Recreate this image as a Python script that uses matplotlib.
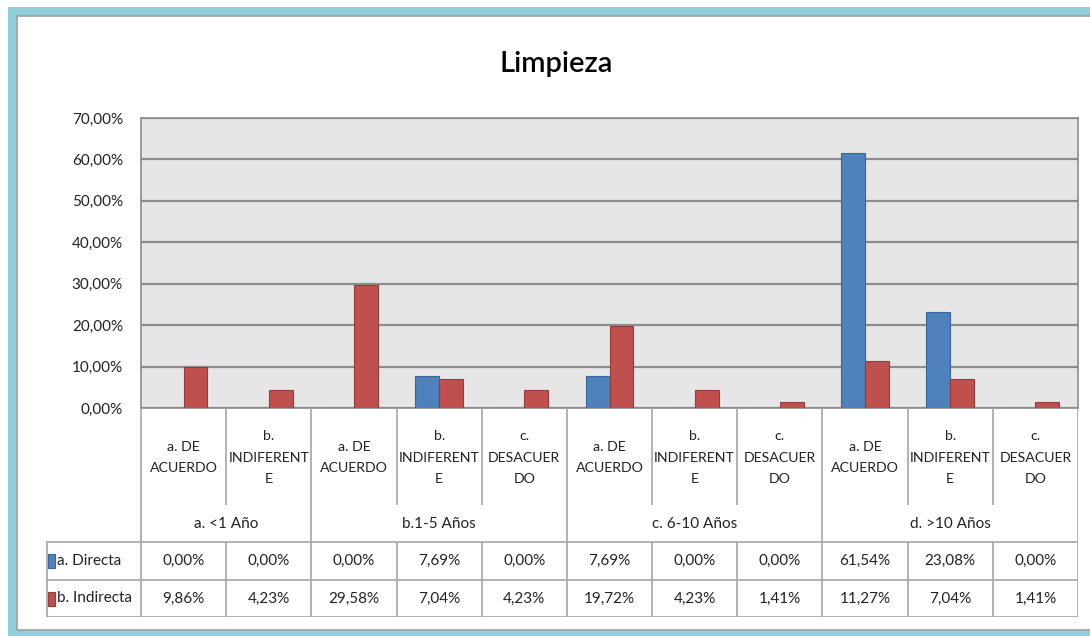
import matplotlib
matplotlib.use("Agg")
import matplotlib.pyplot as plt
from matplotlib import font_manager
from matplotlib.patches import Rectangle
import numpy as np

# ---------------- data ----------------
categories = ["a. DE\nACUERDO", "b.\nINDIFERENT\nE",
              "a. DE\nACUERDO", "b.\nINDIFERENT\nE", "c.\nDESACUER\nDO",
              "a. DE\nACUERDO", "b.\nINDIFERENT\nE", "c.\nDESACUER\nDO",
              "a. DE\nACUERDO", "b.\nINDIFERENT\nE", "c.\nDESACUER\nDO"]
groups = ["a. <1 Año", "b.1-5 Años", "c. 6-10 Años", "d. >10 Años"]
group_sizes = [2, 3, 3, 3]
series_names = ["a. Directa", "b. Indirecta"]
directa = [0.00, 0.00, 0.00, 7.69, 0.00, 7.69, 0.00, 0.00, 61.54, 23.08, 0.00]
indirecta = [9.86, 4.23, 29.58, 7.04, 4.23, 19.72, 4.23, 1.41, 11.27, 7.04, 1.41]
yticks = [0, 10, 20, 30, 40, 50, 60, 70]
title = "Limpieza"

# ---------------- style ----------------
names = {f.name for f in font_manager.fontManager.ttflist}
narrow = "Liberation Sans Narrow" in names
if narrow:
    plt.rcParams["font.family"] = ["Liberation Sans Narrow", "DejaVu Sans"]
    cfs, fs, tfs, yfs = 11.5, 11.5, 23, 12
else:
    plt.rcParams["font.family"] = ["Lato", "DejaVu Sans"]
    cfs, fs, tfs, yfs = 10.2, 11, 21, 11

BLUE, BLUE_E = "#4F81BD", "#3A6596"
RED, RED_E = "#C0504D", "#943C3A"
GRID = "#8C8C8C"
LINE = "#A6A6A6"
TXT = "#222222"

W, H = 1090, 636
fig = plt.figure(figsize=(W / 100, H / 100), dpi=100)
fig.patch.set_facecolor("white")

def fx(x):
    return x / W

def fy(y):
    return 1 - y / H

# frame
fig.patches.append(Rectangle((fx(8), fy(645)), fx(1200), (645 - 7) / H,
                             transform=fig.transFigure, facecolor="#92CDDC",
                             edgecolor="none", zorder=-20))
fig.patches.append(Rectangle((fx(17), fy(630)), fx(1200), (630 - 16) / H,
                             transform=fig.transFigure, facecolor="white",
                             edgecolor="#A0A0A0", lw=1.2, zorder=-10))

fig.text(fx(556), fy(64), title, ha="center", va="center", fontsize=tfs,
         color="black", fontweight="semibold")

# ---------------- bar axes ----------------
L, R, T, B = 141, 1078, 118, 408
ax = fig.add_axes([fx(L), fy(B), fx(R - L), (B - T) / H])
ax.set_facecolor("#E6E6E6")
n = len(categories)
x = np.arange(n)
bw = 0.28
ax.bar(x - bw / 2, directa, bw, color=BLUE, edgecolor=BLUE_E, lw=0.8, zorder=3)
ax.bar(x + bw / 2, indirecta, bw, color=RED, edgecolor=RED_E, lw=0.8, zorder=3)
ax.set_xlim(-0.5, n - 0.5)
ax.set_ylim(0, 70)
ax.set_yticks(yticks)
ax.set_yticklabels([f"{v:.2f}%".replace(".", ",") for v in yticks],
                   fontsize=yfs, color=TXT)
ax.yaxis.grid(True, color=GRID, lw=1.6, zorder=1)
ax.set_axisbelow(True)
ax.set_xticks([])
ax.tick_params(axis="y", length=0, pad=13)
for s in ax.spines.values():
    s.set_color(GRID)
    s.set_linewidth(1.2)

# ---------------- data table ----------------
TL, TB = 46, 617
tax = fig.add_axes([fx(TL), fy(TB), fx(R - TL), (TB - B) / H])
catw = (R - L) / n
x0 = -0.5 - (L - TL) / catw
tax.set_xlim(x0, n - 0.5)
tax.set_ylim(TB - B, 0)
tax.axis("off")

r_cat, r_grp, r_s1, r_s2 = 97, 134, 172, 209

def hline(y, xa, xb):
    tax.plot([xa, xb], [y, y], color=LINE, lw=1.2, solid_capstyle="butt")

def vline(xv, ya, yb):
    tax.plot([xv, xv], [ya, yb], color=LINE, lw=1.2, solid_capstyle="butt")

vline(-0.5, 0, r_s2)
vline(n - 0.5, 0, r_s2)
vline(x0 + 0.01, r_grp, r_s2)
bounds = np.cumsum(group_sizes)[:-1]
for i in range(1, n):
    if i in bounds:
        vline(i - 0.5, 0, r_s2)
    else:
        vline(i - 0.5, 0, r_cat)
        vline(i - 0.5, r_grp, r_s2)
hline(r_grp, x0, n - 0.5)
hline(r_s1, x0, n - 0.5)
hline(r_s2, x0, n - 0.5)

for i, c in enumerate(categories):
    tax.text(i, r_cat / 2 + 1, c, ha="center", va="center", fontsize=cfs,
             linespacing=1.95, color=TXT)
start = 0
for g, sz in zip(groups, group_sizes):
    tax.text(start + (sz - 1) / 2, (r_cat + r_grp) / 2 + 1, g, ha="center",
             va="center", fontsize=fs, color=TXT)
    start += sz

def pct(v):
    return f"{v:.2f}%".replace(".", ",")

for vals, (ya, yb), name, col, ec in [
        (directa, (r_grp, r_s1), series_names[0], BLUE, BLUE_E),
        (indirecta, (r_s1, r_s2), series_names[1], RED, RED_E)]:
    ym = (ya + yb) / 2
    for i, v in enumerate(vals):
        tax.text(i, ym, pct(v), ha="center", va="center", fontsize=fs,
                 color=TXT)
    tax.add_patch(Rectangle((x0 + 0.02, ym - 7), 0.085, 14, facecolor=col,
                            edgecolor=ec, lw=0.8))
    tax.text(x0 + 0.13, ym, name, ha="left", va="center", fontsize=fs,
             color=TXT)

fig.savefig("out.png", dpi=100, facecolor=fig.get_facecolor())
